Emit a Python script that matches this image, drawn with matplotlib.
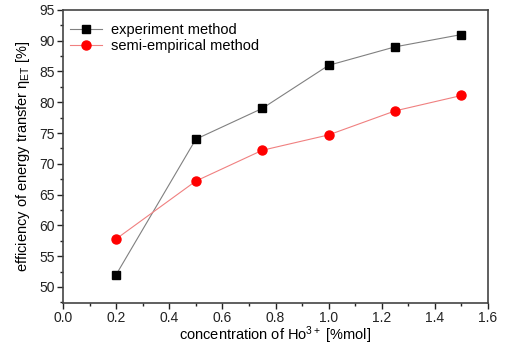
import matplotlib
matplotlib.use("Agg")
import matplotlib.pyplot as plt
from matplotlib.ticker import MultipleLocator

plt.rcParams['font.family'] = ['Liberation Sans', 'DejaVu Sans']
plt.rcParams['mathtext.fontset'] = 'custom'
plt.rcParams['mathtext.rm'] = 'Liberation Sans'
plt.rcParams['mathtext.it'] = 'Liberation Sans:italic'

conc = [0.2, 0.5, 0.75, 1.0, 1.25, 1.5]
experiment = [52.0, 74.0, 79.0, 86.0, 89.0, 91.0]
semi_empirical = [57.8, 67.2, 72.2, 74.7, 78.6, 81.1]

fig = plt.figure(figsize=(5.06, 3.44), dpi=100)
ax = fig.add_axes([0.1245, 0.1192, 0.84, 0.852])

ax.plot(conc, experiment, color='#808080', lw=0.8, marker='s', ms=5.5,
        mfc='black', mec='black', label='experiment method')
ax.plot(conc, semi_empirical, color='#f08080', lw=0.8, marker='o', ms=6.5,
        mfc='red', mec='red', label='semi-empirical method')

ax.set_xlim(0, 1.6)
ax.set_ylim(47.4, 95)
ax.xaxis.set_major_locator(MultipleLocator(0.2))
ax.xaxis.set_minor_locator(MultipleLocator(0.1))
ax.yaxis.set_major_locator(MultipleLocator(5))
ax.yaxis.set_minor_locator(MultipleLocator(2.5))
ax.tick_params(which='both', direction='out', top=False, right=False, labelsize=10,
               colors='#222222', pad=1.5)
ax.tick_params(which='major', length=4.5, width=1)
ax.tick_params(which='minor', length=2.5, width=1)
ax.set_xticklabels([f"{v:.1f}" for v in ax.get_xticks()])
for s in ax.spines.values():
    s.set_linewidth(1.2)
    s.set_color('#444444')

ax.set_xlabel(r'concentration of Ho$^{\mathregular{3+}}$ [%mol]', fontsize=10.5, labelpad=-1)
ax.set_ylabel(r'efficiency of energy transfer $\mathregular{\eta_{ET}}$ [%]', fontsize=10.5, labelpad=5)

ax.legend(loc='upper left', bbox_to_anchor=(0.0, 0.98), frameon=False, fontsize=10.5,
          handlelength=2.2, borderaxespad=0.3, borderpad=0.2, labelspacing=0.15,
          handletextpad=0.6)

fig.savefig('out.png', dpi=100)
